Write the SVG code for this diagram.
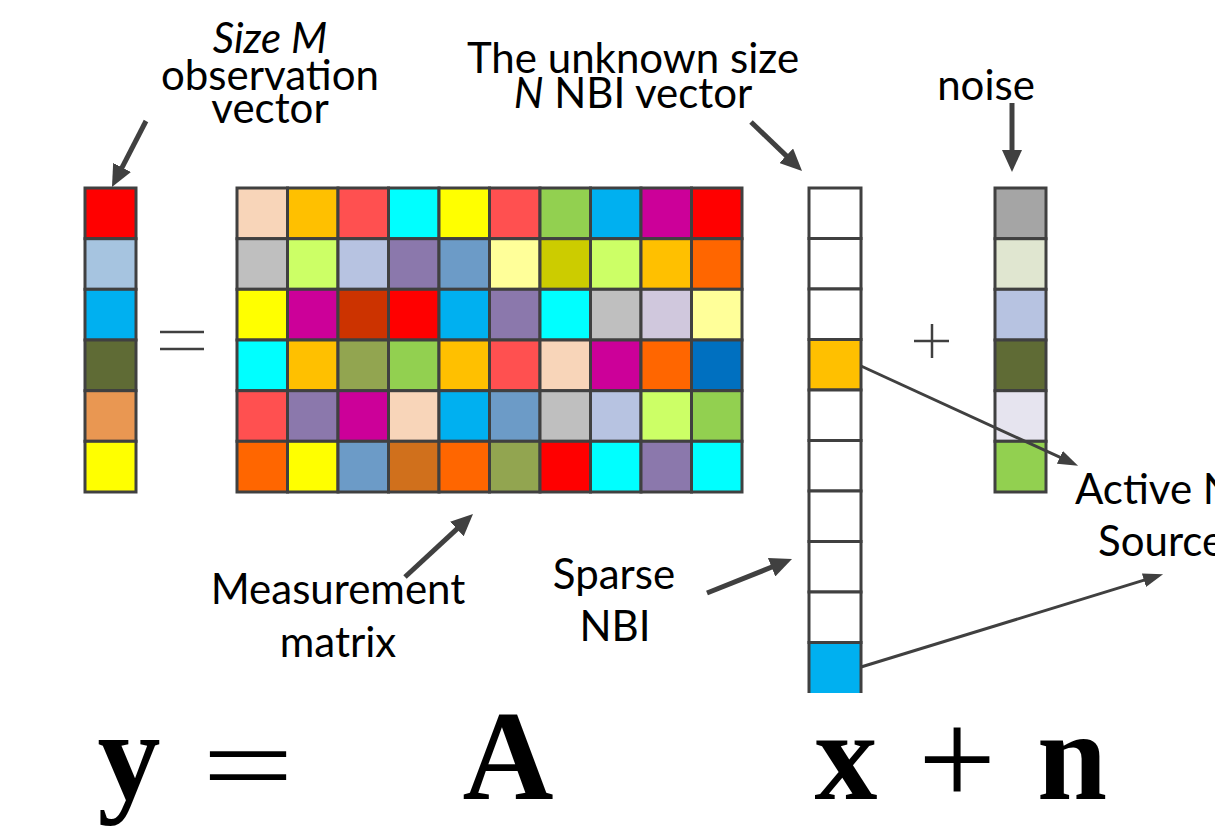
<svg xmlns="http://www.w3.org/2000/svg" width="1215" height="834" viewBox="0 0 1215 834">
<style>
.c{stroke:#404040;stroke-width:3}
.t{font-family:Lato,"Liberation Sans",sans-serif;font-size:42px;fill:#000;text-anchor:middle}
.it{font-style:italic}
.eq{font-family:"Liberation Serif",serif;font-weight:bold;font-size:126px;fill:#000;text-anchor:middle}
.op{font-family:"Liberation Serif",serif;font-weight:normal;font-size:126px;fill:#000;text-anchor:middle}
.a{stroke:#404040;stroke-width:5;fill:none}
.a2{stroke:#404040;stroke-width:3;fill:none}
</style>
<defs>
<marker id="ah" viewBox="0 0 22 20" refX="1" refY="10" markerWidth="22" markerHeight="20" markerUnits="userSpaceOnUse" orient="auto"><path d="M0,0 L22,10 L0,20 z" fill="#404040"/></marker>
<marker id="ahs" viewBox="0 0 20 14" refX="1" refY="7" markerWidth="20" markerHeight="14" markerUnits="userSpaceOnUse" orient="auto"><path d="M0,0 L20,7 L0,14 z" fill="#404040"/></marker>
</defs>
<rect width="1215" height="834" fill="#fff"/>

<g id="y-vector">
<rect class="c" x="85" y="188" width="51" height="50.7" fill="#FF0000"/>
<rect class="c" x="85" y="238.7" width="51" height="50.6" fill="#A6C4E0"/>
<rect class="c" x="85" y="289.3" width="51" height="50.7" fill="#00B0F0"/>
<rect class="c" x="85" y="340" width="51" height="50.7" fill="#5F6B35"/>
<rect class="c" x="85" y="390.7" width="51" height="50.6" fill="#E99752"/>
<rect class="c" x="85" y="441.3" width="51" height="50.7" fill="#FFFF00"/>
</g>

<g id="equals">
<line x1="160" y1="332" x2="204" y2="332" stroke="#404040" stroke-width="2.5"/>
<line x1="160" y1="349" x2="204" y2="349" stroke="#404040" stroke-width="2.5"/>
</g>

<g id="matrix-A">
<g>
<rect class="c" x="237" y="188" width="50.5" height="50.7" fill="#F8D5B9"/>
<rect class="c" x="287.5" y="188" width="50.5" height="50.7" fill="#FFC000"/>
<rect class="c" x="338" y="188" width="50.5" height="50.7" fill="#FF5050"/>
<rect class="c" x="388.5" y="188" width="50.5" height="50.7" fill="#00FFFF"/>
<rect class="c" x="439" y="188" width="50.5" height="50.7" fill="#FFFF00"/>
<rect class="c" x="489.5" y="188" width="50.5" height="50.7" fill="#FF5050"/>
<rect class="c" x="540" y="188" width="50.5" height="50.7" fill="#92D050"/>
<rect class="c" x="590.5" y="188" width="50.5" height="50.7" fill="#00B0F0"/>
<rect class="c" x="641" y="188" width="50.5" height="50.7" fill="#CC0099"/>
<rect class="c" x="691.5" y="188" width="50.5" height="50.7" fill="#FF0000"/>
</g>
<g>
<rect class="c" x="237" y="238.7" width="50.5" height="50.6" fill="#BFBFBF"/>
<rect class="c" x="287.5" y="238.7" width="50.5" height="50.6" fill="#CCFF66"/>
<rect class="c" x="338" y="238.7" width="50.5" height="50.6" fill="#B7C3E1"/>
<rect class="c" x="388.5" y="238.7" width="50.5" height="50.6" fill="#8B78AC"/>
<rect class="c" x="439" y="238.7" width="50.5" height="50.6" fill="#6C9BC7"/>
<rect class="c" x="489.5" y="238.7" width="50.5" height="50.6" fill="#FFFF99"/>
<rect class="c" x="540" y="238.7" width="50.5" height="50.6" fill="#CCCC00"/>
<rect class="c" x="590.5" y="238.7" width="50.5" height="50.6" fill="#CCFF66"/>
<rect class="c" x="641" y="238.7" width="50.5" height="50.6" fill="#FFC000"/>
<rect class="c" x="691.5" y="238.7" width="50.5" height="50.6" fill="#FF6600"/>
</g>
<g>
<rect class="c" x="237" y="289.3" width="50.5" height="50.7" fill="#FFFF00"/>
<rect class="c" x="287.5" y="289.3" width="50.5" height="50.7" fill="#CC0099"/>
<rect class="c" x="338" y="289.3" width="50.5" height="50.7" fill="#CC3300"/>
<rect class="c" x="388.5" y="289.3" width="50.5" height="50.7" fill="#FF0000"/>
<rect class="c" x="439" y="289.3" width="50.5" height="50.7" fill="#00B0F0"/>
<rect class="c" x="489.5" y="289.3" width="50.5" height="50.7" fill="#8B78AC"/>
<rect class="c" x="540" y="289.3" width="50.5" height="50.7" fill="#00FFFF"/>
<rect class="c" x="590.5" y="289.3" width="50.5" height="50.7" fill="#BFBFBF"/>
<rect class="c" x="641" y="289.3" width="50.5" height="50.7" fill="#D0C8DD"/>
<rect class="c" x="691.5" y="289.3" width="50.5" height="50.7" fill="#FFFF99"/>
</g>
<g>
<rect class="c" x="237" y="340" width="50.5" height="50.7" fill="#00FFFF"/>
<rect class="c" x="287.5" y="340" width="50.5" height="50.7" fill="#FFC000"/>
<rect class="c" x="338" y="340" width="50.5" height="50.7" fill="#92A550"/>
<rect class="c" x="388.5" y="340" width="50.5" height="50.7" fill="#92D050"/>
<rect class="c" x="439" y="340" width="50.5" height="50.7" fill="#FFC000"/>
<rect class="c" x="489.5" y="340" width="50.5" height="50.7" fill="#FF5050"/>
<rect class="c" x="540" y="340" width="50.5" height="50.7" fill="#F8D5B9"/>
<rect class="c" x="590.5" y="340" width="50.5" height="50.7" fill="#CC0099"/>
<rect class="c" x="641" y="340" width="50.5" height="50.7" fill="#FF6600"/>
<rect class="c" x="691.5" y="340" width="50.5" height="50.7" fill="#0070C0"/>
</g>
<g>
<rect class="c" x="237" y="390.7" width="50.5" height="50.6" fill="#FF5050"/>
<rect class="c" x="287.5" y="390.7" width="50.5" height="50.6" fill="#8B78AC"/>
<rect class="c" x="338" y="390.7" width="50.5" height="50.6" fill="#CC0099"/>
<rect class="c" x="388.5" y="390.7" width="50.5" height="50.6" fill="#F8D5B9"/>
<rect class="c" x="439" y="390.7" width="50.5" height="50.6" fill="#00B0F0"/>
<rect class="c" x="489.5" y="390.7" width="50.5" height="50.6" fill="#6C9BC7"/>
<rect class="c" x="540" y="390.7" width="50.5" height="50.6" fill="#BFBFBF"/>
<rect class="c" x="590.5" y="390.7" width="50.5" height="50.6" fill="#B7C3E1"/>
<rect class="c" x="641" y="390.7" width="50.5" height="50.6" fill="#CCFF66"/>
<rect class="c" x="691.5" y="390.7" width="50.5" height="50.6" fill="#92D050"/>
</g>
<g>
<rect class="c" x="237" y="441.3" width="50.5" height="50.7" fill="#FF6600"/>
<rect class="c" x="287.5" y="441.3" width="50.5" height="50.7" fill="#FFFF00"/>
<rect class="c" x="338" y="441.3" width="50.5" height="50.7" fill="#6C9BC7"/>
<rect class="c" x="388.5" y="441.3" width="50.5" height="50.7" fill="#D0701C"/>
<rect class="c" x="439" y="441.3" width="50.5" height="50.7" fill="#FF6600"/>
<rect class="c" x="489.5" y="441.3" width="50.5" height="50.7" fill="#92A550"/>
<rect class="c" x="540" y="441.3" width="50.5" height="50.7" fill="#FF0000"/>
<rect class="c" x="590.5" y="441.3" width="50.5" height="50.7" fill="#00FFFF"/>
<rect class="c" x="641" y="441.3" width="50.5" height="50.7" fill="#8B78AC"/>
<rect class="c" x="691.5" y="441.3" width="50.5" height="50.7" fill="#00FFFF"/>
</g>
</g>

<g id="x-vector">
<rect class="c" x="809" y="188" width="52" height="50.5" fill="#FFFFFF"/>
<rect class="c" x="809" y="238.5" width="52" height="50.5" fill="#FFFFFF"/>
<rect class="c" x="809" y="289" width="52" height="50.5" fill="#FFFFFF"/>
<rect class="c" x="809" y="339.5" width="52" height="50.5" fill="#FFC000"/>
<rect class="c" x="809" y="390" width="52" height="50.5" fill="#FFFFFF"/>
<rect class="c" x="809" y="440.5" width="52" height="50.5" fill="#FFFFFF"/>
<rect class="c" x="809" y="491" width="52" height="50.5" fill="#FFFFFF"/>
<rect class="c" x="809" y="541.5" width="52" height="50.5" fill="#FFFFFF"/>
<rect class="c" x="809" y="592" width="52" height="50.5" fill="#FFFFFF"/>
<rect x="809" y="642.5" width="52" height="50.5" fill="#00B0F0"/>
<path class="c" d="M809,693 V642.5 H861 V693" fill="none"/>
</g>

<g id="plus">
<line x1="914" y1="341" x2="949" y2="341" stroke="#404040" stroke-width="2.5"/>
<line x1="932" y1="324" x2="932" y2="358" stroke="#404040" stroke-width="2.5"/>
</g>

<g id="noise-vector">
<rect class="c" x="995" y="188" width="51" height="50.7" fill="#A5A5A5"/>
<rect class="c" x="995" y="238.7" width="51" height="50.6" fill="#E0E6D0"/>
<rect class="c" x="995" y="289.3" width="51" height="50.7" fill="#B7C3E1"/>
<rect class="c" x="995" y="340" width="51" height="50.7" fill="#5F6B35"/>
<rect class="c" x="995" y="390.7" width="51" height="50.6" fill="#E6E4EF"/>
<rect class="c" x="995" y="441.3" width="51" height="50.7" fill="#92D050"/>
</g>

<g id="labels">
<text class="t it" x="270" y="53">Size M</text>
<text class="t" x="270" y="90">observation</text>
<text class="t" x="270" y="123">vector</text>
<text class="t" x="633" y="73">The unknown size</text>
<text class="t" x="633" y="108"><tspan class="it">N</tspan> NBI vector</text>
<text class="t" x="986" y="100">noise</text>
<text class="t" x="338" y="604">Measurement</text>
<text class="t" x="338" y="657">matrix</text>
<text class="t" x="614" y="589">Sparse</text>
<text class="t" x="615" y="641">NBI</text>
<text class="t" x="1075" y="504" style="text-anchor:start">Active N</text>
<text class="t" x="1098" y="556" style="text-anchor:start">Source</text>
</g>

<g id="equation">
<text class="eq" x="129" y="799">y</text>
<text class="op" transform="translate(248,768) scale(1.3,0.9)" x="0" y="40">=</text>
<text class="eq" x="508" y="799">A</text>
<text class="eq" x="846" y="799">x</text>
<text class="op" transform="translate(957,765) scale(1.1,1.1)" x="0" y="36">+</text>
<text class="eq" x="1072" y="799">n</text>
</g>

<g id="connectors">
<line class="a" x1="146" y1="121" x2="121.6" y2="168.3" marker-end="url(#ah)"/>
<line class="a" x1="751" y1="122" x2="786.9" y2="156.4" marker-end="url(#ah)"/>
<line class="a" x1="1012" y1="103" x2="1012" y2="151" marker-end="url(#ah)"/>
<line class="a" x1="405" y1="577" x2="457.6" y2="528.3" marker-end="url(#ah)"/>
<line class="a" x1="707" y1="593" x2="772.5" y2="566.8" marker-end="url(#ah)"/>
<line class="a2" x1="861" y1="366" x2="1060.8" y2="457.7" marker-end="url(#ahs)"/>
<line class="a2" x1="861" y1="667" x2="1144.9" y2="579.9" marker-end="url(#ahs)"/>
</g>
</svg>
